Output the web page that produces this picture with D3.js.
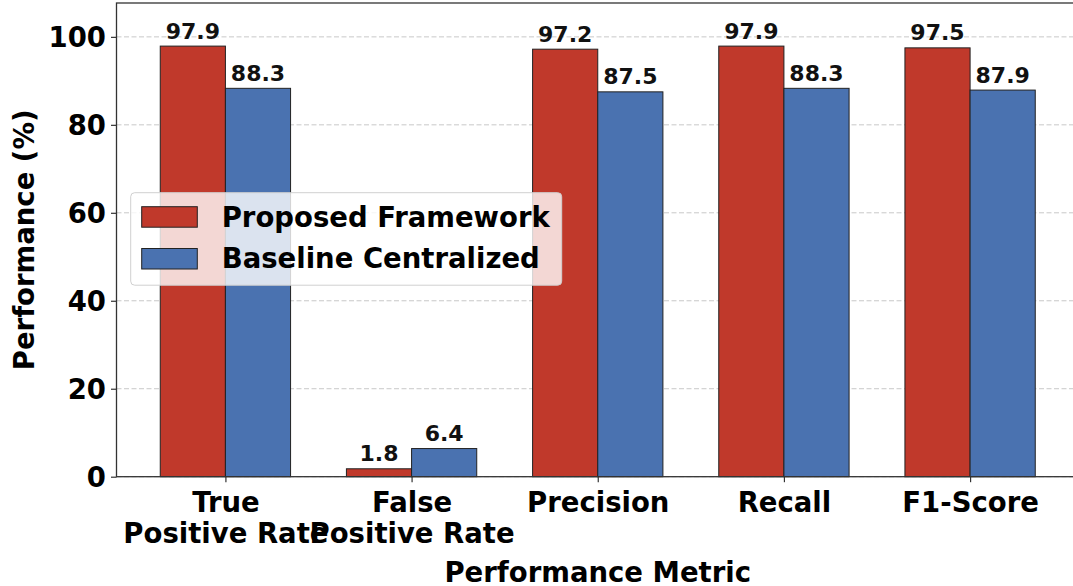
<!DOCTYPE html>
<html>
<head>
<meta charset="utf-8">
<script src="https://cdn.jsdelivr.net/npm/d3@7"></script>
<style>
  html, body { margin: 0; padding: 0; background: #fff; overflow: hidden; }
  svg { display: block; font-family: "DejaVu Sans", sans-serif; font-weight: bold; }
</style>
</head>
<body>
<svg id="chart" width="1073" height="586"></svg>
<script>
const categories = [["True", "Positive Rate"], ["False", "Positive Rate"], ["Precision"], ["Recall"], ["F1-Score"]];
const seriesNames = ["Proposed Framework", "Baseline Centralized"];
const proposed = [97.9, 1.8, 97.2, 97.9, 97.5];
const baseline = [88.3, 6.4, 87.5, 88.3, 87.9];
const yTicks = [0, 20, 40, 60, 80, 100];
const colors = ["#c0392b", "#4a72b0"];

const svg = d3.select("#chart");
const pLeft = 116.5, pRight = 1079, pTop = 3, pBottom = 476.7;
const barW = 0.35;
const FS = 27.5;

const x = d3.scaleLinear().domain([-0.585, categories.length - 1 + 0.585]).range([pLeft, pRight]);
const y = d3.scaleLinear().domain([0, 107.7]).range([pBottom, pTop]);

// grid
svg.append("g").selectAll("line").data(yTicks).join("line")
  .attr("x1", pLeft).attr("x2", pRight)
  .attr("y1", d => y(d)).attr("y2", d => y(d))
  .attr("stroke", "#c8c8c8").attr("stroke-width", 1)
  .attr("stroke-dasharray", "5,2.5");

const series = [proposed, baseline];
series.forEach((vals, s) => {
  const off = s === 0 ? -barW : 0;
  svg.append("g").selectAll("rect").data(vals).join("rect")
    .attr("x", (d, i) => x(i + off))
    .attr("width", x(barW) - x(0))
    .attr("y", d => y(d))
    .attr("height", d => y(0) - y(d))
    .attr("fill", colors[s])
    .attr("stroke", "#222").attr("stroke-width", 1);
  svg.append("g").selectAll("text").data(vals).join("text")
    .attr("x", (d, i) => x(i + off + barW / 2))
    .attr("y", d => y(d) - 7.5)
    .attr("text-anchor", "middle")
    .attr("font-size", 22)
    .attr("fill", "#111")
    .text(d => d.toFixed(1));
});

// axes
const yAxis = d3.axisLeft(y).tickValues(yTicks).tickSize(5.5).tickPadding(5);
const gy = svg.append("g").attr("transform", `translate(${pLeft},0)`).call(yAxis);
gy.select(".domain").remove();
gy.selectAll(".tick line").attr("stroke", "#333").attr("stroke-width", 1.2);
gy.selectAll(".tick text").attr("font-size", FS).attr("font-family", "DejaVu Sans")
  .attr("font-weight", "bold").attr("fill", "#000").attr("dy", "0.36em");

const xAxis = d3.axisBottom(x).tickValues(d3.range(categories.length)).tickSize(5.5).tickFormat(() => "");
const gx = svg.append("g").attr("transform", `translate(0,${pBottom})`).call(xAxis);
gx.select(".domain").remove();
gx.selectAll(".tick line").attr("stroke", "#333").attr("stroke-width", 1.2);
gx.selectAll(".tick").each(function(d) {
  const t = d3.select(this).append("text")
    .attr("fill", "#000").attr("font-size", FS).attr("text-anchor", "middle")
    .attr("font-family", "DejaVu Sans").attr("font-weight", "bold");
  categories[d].forEach((line, k) => {
    t.append("tspan").attr("x", 0).attr("y", 35 + k * 31).text(line);
  });
});

// spines
svg.append("rect").attr("x", pLeft).attr("y", pTop).attr("width", pRight - pLeft).attr("height", pBottom - pTop)
  .attr("fill", "none").attr("stroke", "#333").attr("stroke-width", 1.3);

// axis labels
svg.append("text").attr("x", (pLeft + pRight) / 2).attr("y", 581.5)
  .attr("text-anchor", "middle").attr("font-size", FS).attr("fill", "#000").text("Performance Metric");
svg.append("text").attr("transform", `translate(34,${(pTop + pBottom) / 2}) rotate(-90)`)
  .attr("text-anchor", "middle").attr("font-size", FS).attr("fill", "#000").text("Performance (%)");

// legend
const lg = svg.append("g");
lg.append("rect").attr("x", 130.7).attr("y", 192.7).attr("width", 431).attr("height", 92.5)
  .attr("rx", 4).attr("fill", "rgba(255,255,255,0.8)").attr("stroke", "#d0d0d0").attr("stroke-width", 1);
seriesNames.forEach((name, s) => {
  const cy = 216.7 + s * 41.8;
  lg.append("rect").attr("x", 141.7).attr("y", cy - 10).attr("width", 55.6).attr("height", 20.5)
    .attr("fill", colors[s]).attr("stroke", "#222").attr("stroke-width", 1);
  lg.append("text").attr("x", 221.7).attr("y", cy + 9.8).attr("font-size", FS).attr("fill", "#000").text(name);
});
</script>
</body>
</html>
